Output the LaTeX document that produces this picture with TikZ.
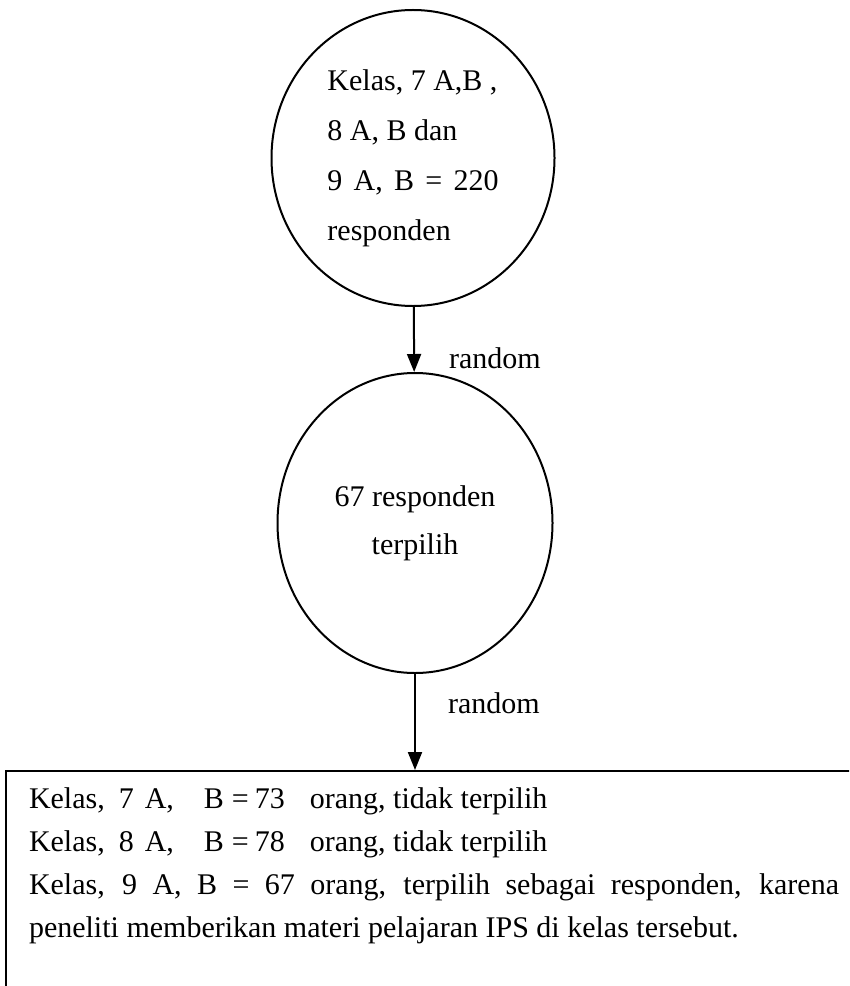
\documentclass[tikz,border=0pt]{standalone}
\usepackage{fontspec}
\setmainfont{Liberation Serif}
\usetikzlibrary{shapes.geometric,arrows.meta,positioning}

\begin{document}
\begin{tikzpicture}[x=0.4pt,y=-0.4pt]
  \tikzstyle{populasi}=[ellipse, draw, line width=0.8pt, inner sep=0pt]
  \tikzstyle{kotak}=[draw, line width=0.8pt, align=justify, anchor=north west, font=\fontsize{12}{17.2}\selectfont]
  \tikzstyle{panah}=[-{Triangle[length=7.2pt,width=5.6pt]}, line width=0.8pt]
  \tikzstyle{acak}=[font=\fontsize{12}{14}\selectfont, inner sep=0pt]
  \useasboundingbox (0,0) rectangle (849,986);
  \clip (0,0) rectangle (849,986);

  % Populasi awal
  \node[populasi, minimum width=113.2pt, minimum height=118.4pt, align=left, font=\fontsize{12}{20}\selectfont] (pop) at (413,158)
    {Kelas, 7 A,B ,\\8 A, B dan\\9\hspace{4.5pt}A,\hspace{4.5pt}B\hspace{4.5pt}=\hspace{4.5pt}220\\responden};

  % Sampel terpilih
  \node[populasi, minimum width=110pt, minimum height=120pt, align=center, font=\fontsize{12}{19.2}\selectfont] (sampel) at (415,523)
    {67 responden\\terpilih};

  % Keterangan hasil
  \node[kotak, text width=324pt, inner xsep=9.2pt, inner ysep=6.6pt] (hasil) at (5,770)
    {Kelas,\hspace{5.6pt}7\hspace{4.4pt}A,\hspace{12pt}B\hspace{3.2pt}=\hspace{2.4pt}73\hspace{10pt}orang, tidak terpilih\\
     Kelas,\hspace{5.6pt}8\hspace{4.4pt}A,\hspace{12pt}B\hspace{3.2pt}=\hspace{2.4pt}78\hspace{10pt}orang, tidak terpilih\\
     Kelas, 9 A, B = 67 orang, terpilih sebagai responden, karena\linebreak
     peneliti memberikan materi pelajaran IPS di kelas tersebut.\\[8pt]\mbox{}};

  % Panah
  \draw[panah] (pop) -- (sampel);
  \draw[panah] (sampel) -- (sampel.south |- hasil.north);

  % Label random
  \node[acak] (acak1) at (495,358) {random};
  \node[acak] (acak2) at (494,703) {random};
\end{tikzpicture}
\end{document}
